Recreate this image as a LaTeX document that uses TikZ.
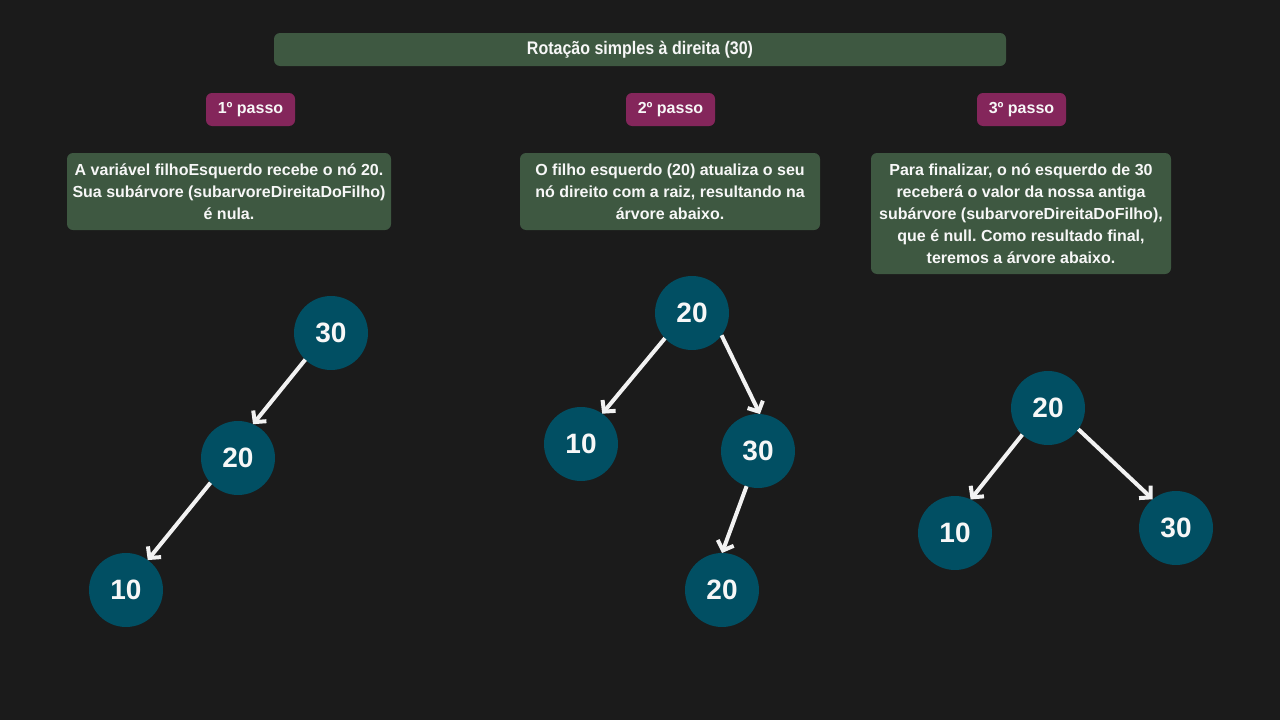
\documentclass[tikz,border=0pt]{standalone}
\usepackage{fontspec}
\setmainfont{Liberation Sans}
\newfontfamily\titlefont[FakeStretch=0.88]{Liberation Sans}
\usetikzlibrary{arrows.meta}
\frenchspacing

\definecolor{fundo}{HTML}{1B1B1B}
\definecolor{caixa}{HTML}{3E5841}
\definecolor{passo}{HTML}{84265B}
\definecolor{no}{HTML}{014F63}
\definecolor{seta}{HTML}{F2F2F2}
\definecolor{texto}{HTML}{F7F7F7}

\tikzset{
  titulo/.style={fill=caixa, rounded corners=6pt, minimum width=732pt, minimum height=33pt,
    text=texto, font=\titlefont\bfseries\fontsize{18.2pt}{21pt}\selectfont},
  etapa/.style={fill=passo, rounded corners=6pt, minimum width=89pt, minimum height=33pt,
    text=texto, font=\bfseries\fontsize{16pt}{19pt}\selectfont},
  explica/.style={fill=caixa, rounded corners=6pt, align=center, inner sep=0pt,
    text=texto, font=\bfseries\fontsize{16pt}{22pt}\selectfont},
  arvno/.style={circle, fill=no, minimum size=74pt, inner sep=0pt, outer sep=0pt,
    text=texto, font=\bfseries\fontsize{28pt}{30pt}\selectfont},
  liga/.style={draw=seta, line width=4pt, -{Straight Barb[length=8pt,width=17pt]}}
}

\begin{document}
\begin{tikzpicture}[x=1pt, y=-1pt]
  \fill[fundo] (0,0) rectangle (1280,720);
  \useasboundingbox (0,0) rectangle (1280,720);

  \node[titulo] (tit) at (640,49.5) {Rotação simples à direita (30)};

  \node[etapa] (p1) at (250.5,109.5) {1º passo};
  \node[etapa] (p2) at (670.5,109.5) {2º passo};
  \node[etapa] (p3) at (1021.5,109.5) {3º passo};

  \node[explica, minimum width=324pt, minimum height=77pt] (t1) at (229,191.5)
    {A variável filhoEsquerdo recebe o nó 20.\\Sua subárvore (subarvoreDireitaDoFilho)\\é nula.};
  \node[explica, minimum width=300pt, minimum height=77pt] (t2) at (670,191.5)
    {O filho esquerdo (20) atualiza o seu\\nó direito com a raiz, resultando na\\árvore abaixo.};
  \node[explica, minimum width=300pt, minimum height=121pt] (t3) at (1021,213.5)
    {Para finalizar, o nó esquerdo de 30\\receberá o valor da nossa antiga\\subárvore (subarvoreDireitaDoFilho),\\que é null. Como resultado final,\\teremos a árvore abaixo.};

  % 1o passo
  \node[arvno] (a30) at (331,333) {30};
  \node[arvno] (a20) at (238,458) {20};
  \node[arvno] (a10) at (126,590) {10};
  \draw[liga] (a30.226) -- (a20.66);
  \draw[liga] (a20.222) -- (a10.54);

  % 2o passo
  \node[arvno] (b20) at (692,313) {20};
  \node[arvno] (b10) at (581,444) {10};
  \node[arvno] (b30) at (758,451) {30};
  \node[arvno] (b20f) at (722,590) {20};
  \draw[liga] (b20.223) -- (b10.55);
  \draw[liga] (b20.-37) -- (b30.87);
  \draw[liga] (b30.252) -- (b20f.90);

  % 3o passo
  \node[arvno] (c20) at (1048,408) {20};
  \node[arvno] (c10) at (955,533) {10};
  \node[arvno] (c30) at (1176,528) {30};
  \draw[liga] (c20.226) -- (c10.65);
  \draw[liga] (c20.-35) -- (c30.129);
\end{tikzpicture}
\end{document}
